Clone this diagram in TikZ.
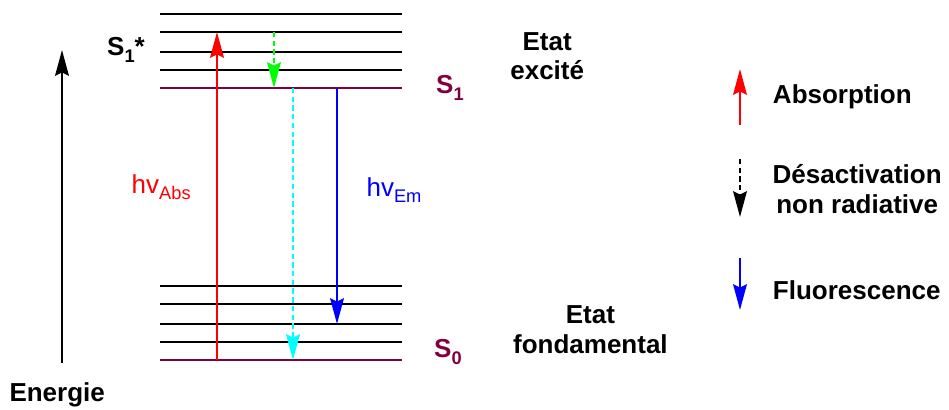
\documentclass[tikz,border=0pt]{standalone}
\usepackage{fontspec}
\setmainfont{Liberation Sans}
\usetikzlibrary{arrows.meta}
\definecolor{etat}{RGB}{128,0,64}
\definecolor{vert}{RGB}{0,255,0}
\definecolor{turquoise}{RGB}{0,255,255}
\definecolor{bleu}{RGB}{0,0,255}
\definecolor{rouge}{RGB}{255,0,0}
\newcommand\indice[1]{\raisebox{-0.45ex}{\fontsize{13}{13}\selectfont #1}}
\tikzset{
  niveau/.style={line width=1.8pt},
  fleche/.style={line width=1.8pt,-{Stealth[length=0.64cm,width=0.34cm,inset=0.08cm]}},
  tirets/.style={dash pattern=on 3.8pt off 2.4pt},
  etiquette/.style={font=\fontsize{18.5}{21}\selectfont\bfseries},
  texte/.style={font=\fontsize{18.5}{21}\selectfont}
}
\begin{document}
\begin{tikzpicture}
            \useasboundingbox (0,0) rectangle (23.725,10.25);
            \foreach \y in {9.9,9.45,8.95,8.5} {
                \draw[niveau] (4.0,\y) -- (10.05,\y);
            }
            \foreach \y in {3.1,2.65,2.15,1.7} {
                \draw[niveau] (4.0,\y) -- (10.05,\y);
            }
            \draw[niveau,etat] (4.0,8.05) coordinate (s1g) -- (10.05,8.05) coordinate (s1d);
            \draw[niveau,etat] (4.0,1.25) coordinate (s0g) -- (10.05,1.25) coordinate (s0d);
            \coordinate (abs0) at (5.425,1.25);
            \coordinate (abs1) at (5.425,9.45);
            \coordinate (nr0) at (6.85,9.45);
            \coordinate (nr1) at (6.85,8.05);
            \coordinate (nrb0) at (7.325,8.05);
            \coordinate (nrb1) at (7.325,1.25);
            \coordinate (em0) at (8.425,8.05);
            \coordinate (em1) at (8.425,2.15);
            \coordinate (en0) at (1.55,1.175);
            \coordinate (en1) at (1.55,9.0);
            \draw[fleche] (en0) -- (en1);
            \draw[fleche,rouge] (abs0) -- (abs1);
            \draw[fleche,tirets,vert] (nr0) -- (nr1);
            \draw[fleche,tirets,turquoise] (nrb0) -- (nrb1);
            \draw[fleche,bleu] (em0) -- (em1);
            \node[etiquette] (s1etoile) at (3.15,9.0) {S\indice{1}*};
            \node[etiquette,text=etat] (s1) at (11.25,8.05) {S\indice{1}};
            \node[etiquette,text=etat] (s0) at (11.2,1.45) {S\indice{0}};
            \node[etiquette,align=center] (excite) at (13.68,8.85) {Etat\\excité};
            \node[etiquette,align=center] (fondamental) at (14.76,2.01) {Etat\\fondamental};
            \node[texte,text=rouge] (hvabs) at (4.03,5.575) {hv\indice{Abs}};
            \node[texte,text=bleu] (hvem) at (9.85,5.5) {hv\indice{Em}};
            \node[etiquette] (energie) at (1.43,0.375) {Energie};
            \coordinate (la0) at (18.5,7.125);
            \coordinate (la1) at (18.5,8.525);
            \coordinate (ld0) at (18.5,6.275);
            \coordinate (ld1) at (18.5,4.825);
            \coordinate (lf0) at (18.5,3.8);
            \coordinate (lf1) at (18.5,2.5);
            \draw[fleche,rouge] (la0) -- (la1);
            \draw[fleche,tirets] (ld0) -- (ld1);
            \draw[fleche,bleu] (lf0) -- (lf1);
            \node[etiquette,anchor=west] (absorption) at (19.2,7.825) {Absorption};
            \node[etiquette,align=center] (desactivation) at (21.43,5.525) {Désactivation\\non radiative};
            \node[etiquette,anchor=west] (fluorescence) at (19.2,3.0) {Fluorescence};
\end{tikzpicture}
\end{document}
